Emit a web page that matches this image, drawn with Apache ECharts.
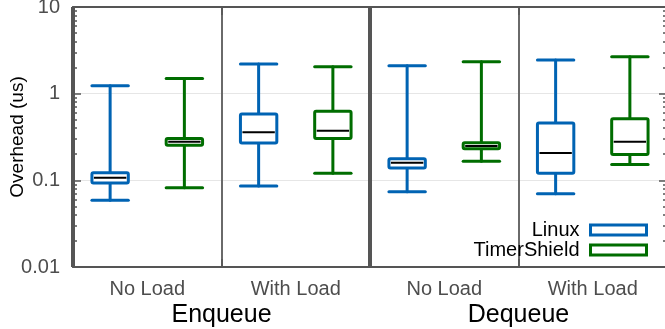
<!DOCTYPE html>
<html>
<head>
<meta charset="utf-8">
<script src="https://cdn.jsdelivr.net/npm/echarts@6/dist/echarts.min.js"></script>
<style>
html,body{margin:0;padding:0;background:#fff;}
#chart{width:665px;height:329px;}
</style>
</head>
<body>
<div id="chart"></div>
<script>
// ---- data ----
const slotNames = ['Enq NoLoad Linux','Enq NoLoad TS','Enq Load Linux','Enq Load TS','Deq NoLoad Linux','Deq NoLoad TS','Deq Load Linux','Deq Load TS'];
const groupLabels = ['No Load','With Load','No Load','With Load'];
const opLabels = ['Enqueue','Dequeue'];
const seriesNames = ['Linux','TimerShield'];
const yTickLabels = ['0.01','0.1','1','10'];

const linuxMin = [0.059, 0.086, 0.074, 0.070];
const linuxQ1  = [0.093, 0.270, 0.139, 0.121];
const linuxMed = [0.107, 0.358, 0.160, 0.207];
const linuxQ3  = [0.122, 0.582, 0.178, 0.459];
const linuxMax = [1.23, 2.20, 2.10, 2.44];

const tsMin = [0.082, 0.121, 0.166, 0.152];
const tsQ1  = [0.254, 0.303, 0.232, 0.198];
const tsMed = [0.279, 0.374, 0.249, 0.279];
const tsQ3  = [0.303, 0.625, 0.272, 0.515];
const tsMax = [1.50, 2.05, 2.34, 2.67];

// ---- styles ----
const FONT = "'Liberation Sans', Arial, Helvetica, sans-serif";
const BLUE = '#0063b3';
const GREEN = '#006d00';
const AX = '#555555';

const linuxData = groupLabels.map((g, i) => [2 * i, linuxMin[i], linuxQ1[i], linuxMed[i], linuxQ3[i], linuxMax[i]]);
const tsData = groupLabels.map((g, i) => [2 * i + 1, tsMin[i], tsQ1[i], tsMed[i], tsQ3[i], tsMax[i]]);

function makeRender(color) {
  return function (params, api) {
    const x = api.value(0);
    const pMin = api.coord([x, api.value(1)]);
    const pQ1 = api.coord([x, api.value(2)]);
    const pMed = api.coord([x, api.value(3)]);
    const pQ3 = api.coord([x, api.value(4)]);
    const pMax = api.coord([x, api.value(5)]);
    const band = api.size([1, 1])[0];
    const bw = band * 0.49;
    const cx = pMed[0];
    const lw = 3;
    const ls = { stroke: color, lineWidth: lw, lineCap: 'round' };
    return {
      type: 'group',
      children: [
        { type: 'line', shape: { x1: cx, y1: pMax[1], x2: cx, y2: pQ3[1] }, style: ls },
        { type: 'line', shape: { x1: cx, y1: pQ1[1], x2: cx, y2: pMin[1] }, style: ls },
        { type: 'line', shape: { x1: cx - bw / 2, y1: pMax[1], x2: cx + bw / 2, y2: pMax[1] }, style: ls },
        { type: 'line', shape: { x1: cx - bw / 2, y1: pMin[1], x2: cx + bw / 2, y2: pMin[1] }, style: ls },
        { type: 'rect', shape: { x: cx - bw / 2, y: pQ3[1], width: bw, height: pQ1[1] - pQ3[1], r: 1.5 },
          style: { fill: '#ffffff', stroke: color, lineWidth: lw } },
        { type: 'line', shape: { x1: cx - bw / 2 + 2, y1: pMed[1], x2: cx + bw / 2 - 2, y2: pMed[1] },
          style: { stroke: '#000000', lineWidth: 2 } }
      ]
    };
  };
}

const chart = echarts.init(document.getElementById('chart'), null, { renderer: 'canvas' });
const option = {
  backgroundColor: '#ffffff',
  animation: false,
  textStyle: { fontFamily: FONT },
  grid: { left: 73, right: -2, top: 7, bottom: 62, containLabel: false, outerBoundsMode: 'none' },
  legend: {
    orient: 'vertical',
    right: 12,
    top: 215,
    align: 'right',
    itemWidth: 56,
    itemHeight: 10,
    itemGap: 0,
    icon: 'rect',
    textStyle: { fontSize: 20, color: '#000', fontFamily: FONT, lineHeight: 20, padding: [0, 6, 0, 0] },
    data: [
      { name: seriesNames[0], itemStyle: { color: '#fff', borderColor: BLUE, borderWidth: 3 } },
      { name: seriesNames[1], itemStyle: { color: '#fff', borderColor: GREEN, borderWidth: 3 } }
    ]
  },
  xAxis: [
    {
      type: 'category', data: slotNames, position: 'bottom', boundaryGap: true,
      axisLine: { show: true, lineStyle: { color: AX, width: 2 } },
      axisTick: { show: true, inside: true, length: 8, lineStyle: { color: AX, width: 1.5 } },
      axisLabel: { show: false },
      splitLine: { show: true, lineStyle: { color: '#e6e6e6', width: 1 } }
    },
    {
      type: 'category', data: groupLabels, position: 'bottom', boundaryGap: true,
      axisLine: { show: false }, axisTick: { show: false },
      axisLabel: { show: true, fontSize: 20, color: '#4d4d4d', margin: 12, fontFamily: FONT, interval: 0 },
      splitLine: { show: true, lineStyle: { color: '#6a6a6a', width: 2 } }
    },
    {
      type: 'category', data: opLabels, position: 'bottom', boundaryGap: true,
      axisLine: { show: false }, axisTick: { show: false },
      axisLabel: { show: true, fontSize: 25, color: '#000', margin: 36, fontFamily: FONT, interval: 0 },
      splitLine: { show: true, lineStyle: { color: '#555555', width: 4 } }
    },
    {
      type: 'category', data: slotNames, position: 'top', boundaryGap: true,
      axisLine: { show: true, lineStyle: { color: AX, width: 2 } },
      axisTick: { show: true, inside: true, length: 8, lineStyle: { color: AX, width: 1.5 } },
      axisLabel: { show: false },
      splitLine: { show: false }
    }
  ],
  yAxis: [
    {
      type: 'log', logBase: 10, min: 0.01, max: 10, position: 'left',
      name: 'Overhead (us)', nameLocation: 'middle', nameGap: 46, nameMoveOverlap: false,
      nameTextStyle: { fontSize: 19, color: '#000', fontFamily: FONT },
      axisLine: { show: true, lineStyle: { color: AX, width: 2 } },
      axisTick: { show: true, inside: true, length: 8, lineStyle: { color: AX, width: 1.5 } },
      minorTick: { show: true, splitNumber: 9, length: 4, lineStyle: { color: AX, width: 1.5 } },
      axisLabel: {
        fontSize: 20, color: '#4d4d4d', margin: 13, fontFamily: FONT,
        formatter: function (v) {
          const e = Math.round(Math.log10(v)) + 2;
          return yTickLabels[e] !== undefined ? yTickLabels[e] : '';
        }
      },
      splitLine: { show: true, lineStyle: { color: '#e6e6e6', width: 1 } }
    },
    {
      type: 'log', logBase: 10, min: 0.01, max: 10, position: 'right',
      axisLine: { show: true, lineStyle: { color: AX, width: 2 } },
      axisTick: { show: true, inside: true, length: 8, lineStyle: { color: AX, width: 1.5 } },
      minorTick: { show: true, splitNumber: 9, length: 4, lineStyle: { color: AX, width: 1.5 } },
      axisLabel: { show: false },
      splitLine: { show: false }
    }
  ],
  series: [
    {
      name: seriesNames[0], type: 'custom', xAxisIndex: 0, yAxisIndex: 0,
      encode: { x: 0, y: [1, 2, 3, 4, 5] },
      itemStyle: { color: BLUE },
      renderItem: makeRender(BLUE), data: linuxData, z: 5
    },
    {
      name: seriesNames[1], type: 'custom', xAxisIndex: 0, yAxisIndex: 0,
      encode: { x: 0, y: [1, 2, 3, 4, 5] },
      itemStyle: { color: GREEN },
      renderItem: makeRender(GREEN), data: tsData, z: 5
    }
  ]
};
chart.setOption(option);
</script>
</body>
</html>
